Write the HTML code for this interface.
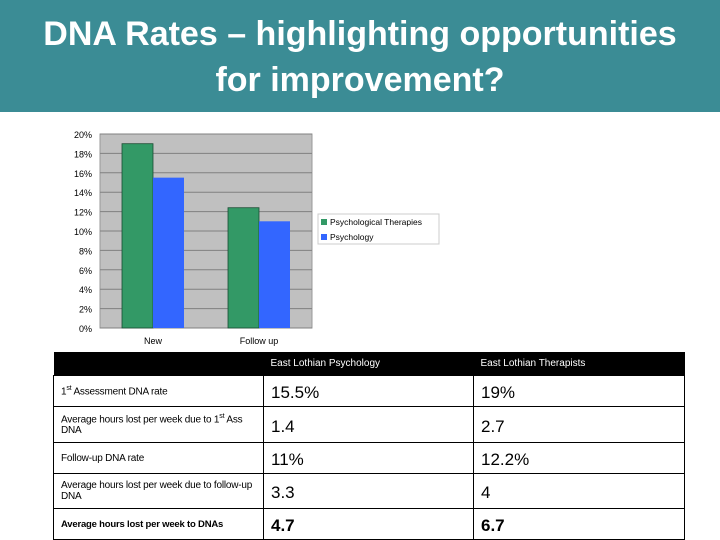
<!DOCTYPE html>
<html><head><meta charset="utf-8"><style>
body{margin:0;width:720px;height:540px;background:#fff;position:relative;overflow:hidden;font-family:"Liberation Sans",sans-serif}
#title{position:absolute;left:0;top:0;width:720px;height:112px;background:#3b8c95;color:#fff;font-weight:bold;font-size:34px;text-align:center;line-height:46px;padding-top:11px;box-sizing:border-box;white-space:nowrap}
table{position:absolute;left:53px;top:352px;width:632px;border-collapse:collapse;font-size:10px}
td{border:1.5px solid #000;padding:0 7px;vertical-align:middle;letter-spacing:-0.2px}
th{background:#000;color:#fff;font-weight:normal;text-align:left;padding:0 7px;height:23px;font-size:10px}
td.v{font-size:17px;letter-spacing:0;padding-top:4px}
</style></head><body>
<div id="title">DNA Rates – highlighting opportunities<br>for improvement?</div>
<svg id="chart" width="720" height="352" style="position:absolute;left:0;top:0"></svg>
<table>
<tr style="height:23px"><th style="width:196px"></th><th style="width:196px">East Lothian Psychology</th><th>East Lothian Therapists</th></tr>
<tr style="height:31px"><td>1<sup style="font-size:7px">st</sup> Assessment DNA rate</td><td class="v">15.5%</td><td class="v">19%</td></tr>
<tr style="height:36px"><td>Average hours lost per week due to 1<sup style="font-size:7px">st</sup> Ass DNA</td><td class="v">1.4</td><td class="v">2.7</td></tr>
<tr style="height:31px"><td>Follow-up DNA rate</td><td class="v">11%</td><td class="v">12.2%</td></tr>
<tr style="height:35px"><td>Average hours lost per week due to follow-up DNA</td><td class="v">3.3</td><td class="v">4</td></tr>
<tr style="height:31px"><td style="font-weight:bold;font-size:9.5px;white-space:nowrap">Average hours lost per week to DNAs</td><td class="v" style="font-weight:bold">4.7</td><td class="v" style="font-weight:bold">6.7</td></tr>
</table>
<script>
const categories=["New","Follow up"];
const seriesNames=["Psychological Therapies","Psychology"];
const therapies=[19,12.4];
const psychology=[15.5,11];
const ticks=[0,2,4,6,8,10,12,14,16,18,20];
const colors=["#339966","#3366ff"];
const svg=document.getElementById('chart');const NS="http://www.w3.org/2000/svg";
const x0=100,x1=312,yTop=134,yBot=328;
const y=v=>yBot-(v/20)*(yBot-yTop);
function el(t,a){const e=document.createElementNS(NS,t);for(const k in a)e.setAttribute(k,a[k]);svg.appendChild(e);return e;}
const bg=el('rect',{x:x0,y:yTop,width:x1-x0,height:yBot-yTop,fill:'#c0c0c0',stroke:'#999'});


ticks.forEach(t=>{
 const g=el('line',{x1:x0,x2:x1,y1:y(t),y2:y(t),stroke:'#808080','stroke-width':1});
 
 
 const l=el('text',{x:92,y:y(t)+4,'text-anchor':'end','font-size':9,fill:'#000'});l.textContent=t+'%';
 
 
});
const cw=(x1-x0)/categories.length,bw=31;
const series=[therapies,psychology];
categories.forEach((c,i)=>{
 const cx=x0+cw*(i+0.5);
 series.forEach((s,j)=>{
  const r=el('rect',{x:cx-bw+j*bw,y:y(s[i]),width:bw,height:yBot-y(s[i]),fill:colors[j],stroke:j==0?'#1a4d33':'none','stroke-width':0.8});
  
  
 });
 const t=el('text',{x:cx,y:344,'text-anchor':'middle','font-size':9});t.textContent=c;
 
 
});
const lg=el('rect',{x:318,y:214,width:121,height:30,fill:'#fff',stroke:'#ccc'});


seriesNames.forEach((n,j)=>{
 const s=el('rect',{x:321,y:219+j*15,width:6,height:6,fill:colors[j]});
 
 
 const t=el('text',{x:330,y:225+j*15,'font-size':8.5});t.textContent=n;
 
 
});
</script>
</body></html>
